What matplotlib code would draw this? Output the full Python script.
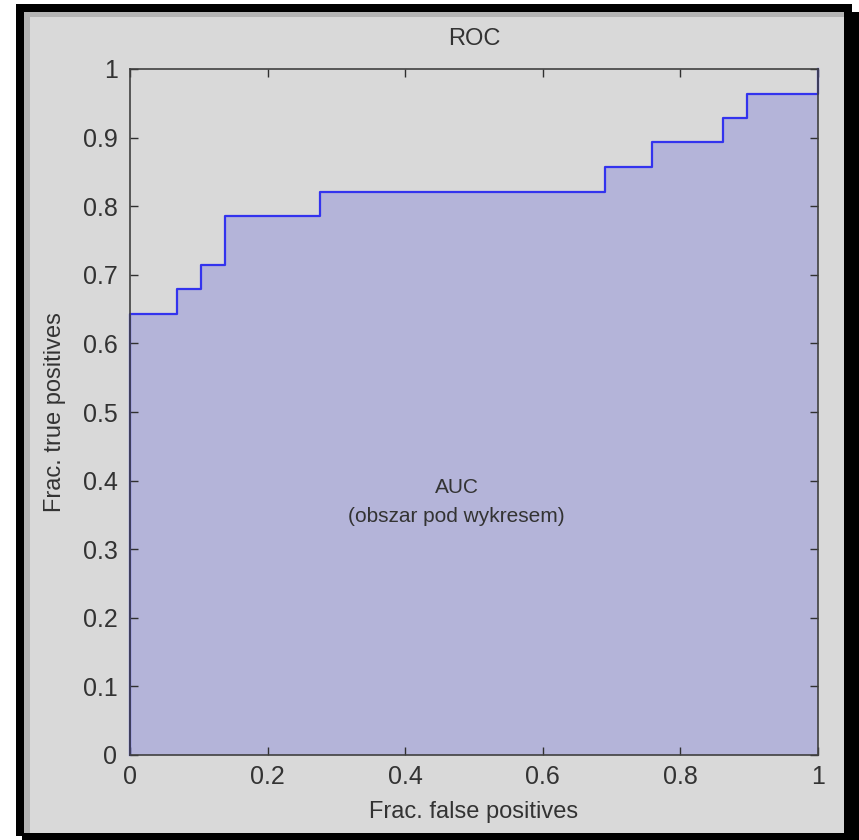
import matplotlib
matplotlib.use("Agg")
import matplotlib.pyplot as plt
from matplotlib.patches import Rectangle

# ROC curve
fpr = [0.0, 0.0, 0.069, 0.103, 0.138, 0.276, 0.690, 0.759, 0.862, 0.897, 1.0]
tpr = [0.0, 0.643, 0.679, 0.714, 0.786, 0.821, 0.857, 0.893, 0.929, 0.964, 1.0]

x_ticks = [0, 0.2, 0.4, 0.6, 0.8, 1]
x_labels = ['0', '0.2', '0.4', '0.6', '0.8', '1']
y_ticks = [0, 0.1, 0.2, 0.3, 0.4, 0.5, 0.6, 0.7, 0.8, 0.9, 1]
y_labels = ['0', '0.1', '0.2', '0.3', '0.4', '0.5', '0.6', '0.7', '0.8', '0.9', '1']

plt.rcParams['font.family'] = ['Liberation Sans', 'DejaVu Sans']

W, H = 859, 840
fig = plt.figure(figsize=(W / 100, H / 100), dpi=100, facecolor='white')

def px_rect(x0, y0, x1, y1, color):
    # pixel box (top-left origin) -> figure fraction rectangle
    fig.patches.append(Rectangle((x0 / W, 1 - y1 / H), (x1 - x0) / W, (y1 - y0) / H,
                                 transform=fig.transFigure, facecolor=color,
                                 edgecolor='none', zorder=-10))

# window frame: black border, bevel, grey panel
px_rect(16, 4, 852, 836, 'black')
px_rect(22, 12, 859, 840, 'black')
px_rect(24, 12, 844, 833, '#b4b4b4')
px_rect(30, 17, 844, 833, '#d9d9d9')

ax = fig.add_axes([130 / W, 1 - 755 / H, 688 / W, 686 / H])
ax.set_facecolor('#d9d9d9')

ax.fill_between(fpr, tpr, step='post', color='#b4b4d9', linewidth=0)
ax.plot(fpr, tpr, drawstyle='steps-post', color='#3333ee', linewidth=1.6, clip_on=False)

ax.set_xlim(0, 1)
ax.set_ylim(0, 1)
ax.set_xticks(x_ticks)
ax.set_xticklabels(x_labels)
ax.set_yticks(y_ticks)
ax.set_yticklabels(y_labels)
ax.tick_params(direction='in', length=6, width=1, color='#303030', labelsize=18,
               labelcolor='#333333', top=True, right=True)
ax.tick_params(axis='y', pad=9)
ax.tick_params(axis='x', pad=7)
for s in ax.spines.values():
    s.set_color('#404040')
    s.set_linewidth(1.2)

ax.set_title('ROC', fontsize=17, color='#333333', pad=17)
ax.set_xlabel('Frac. false positives', fontsize=17, color='#333333', labelpad=9)
ax.set_ylabel('Frac. true positives', fontsize=17, color='#333333', labelpad=12)

ax.text(0.475, 0.39, 'AUC', ha='center', va='center', fontsize=15, color='#333333')
ax.text(0.475, 0.347, '(obszar pod wykresem)', ha='center', va='center', fontsize=15,
        color='#333333')

fig.savefig('out.png', dpi=100, facecolor='white')
